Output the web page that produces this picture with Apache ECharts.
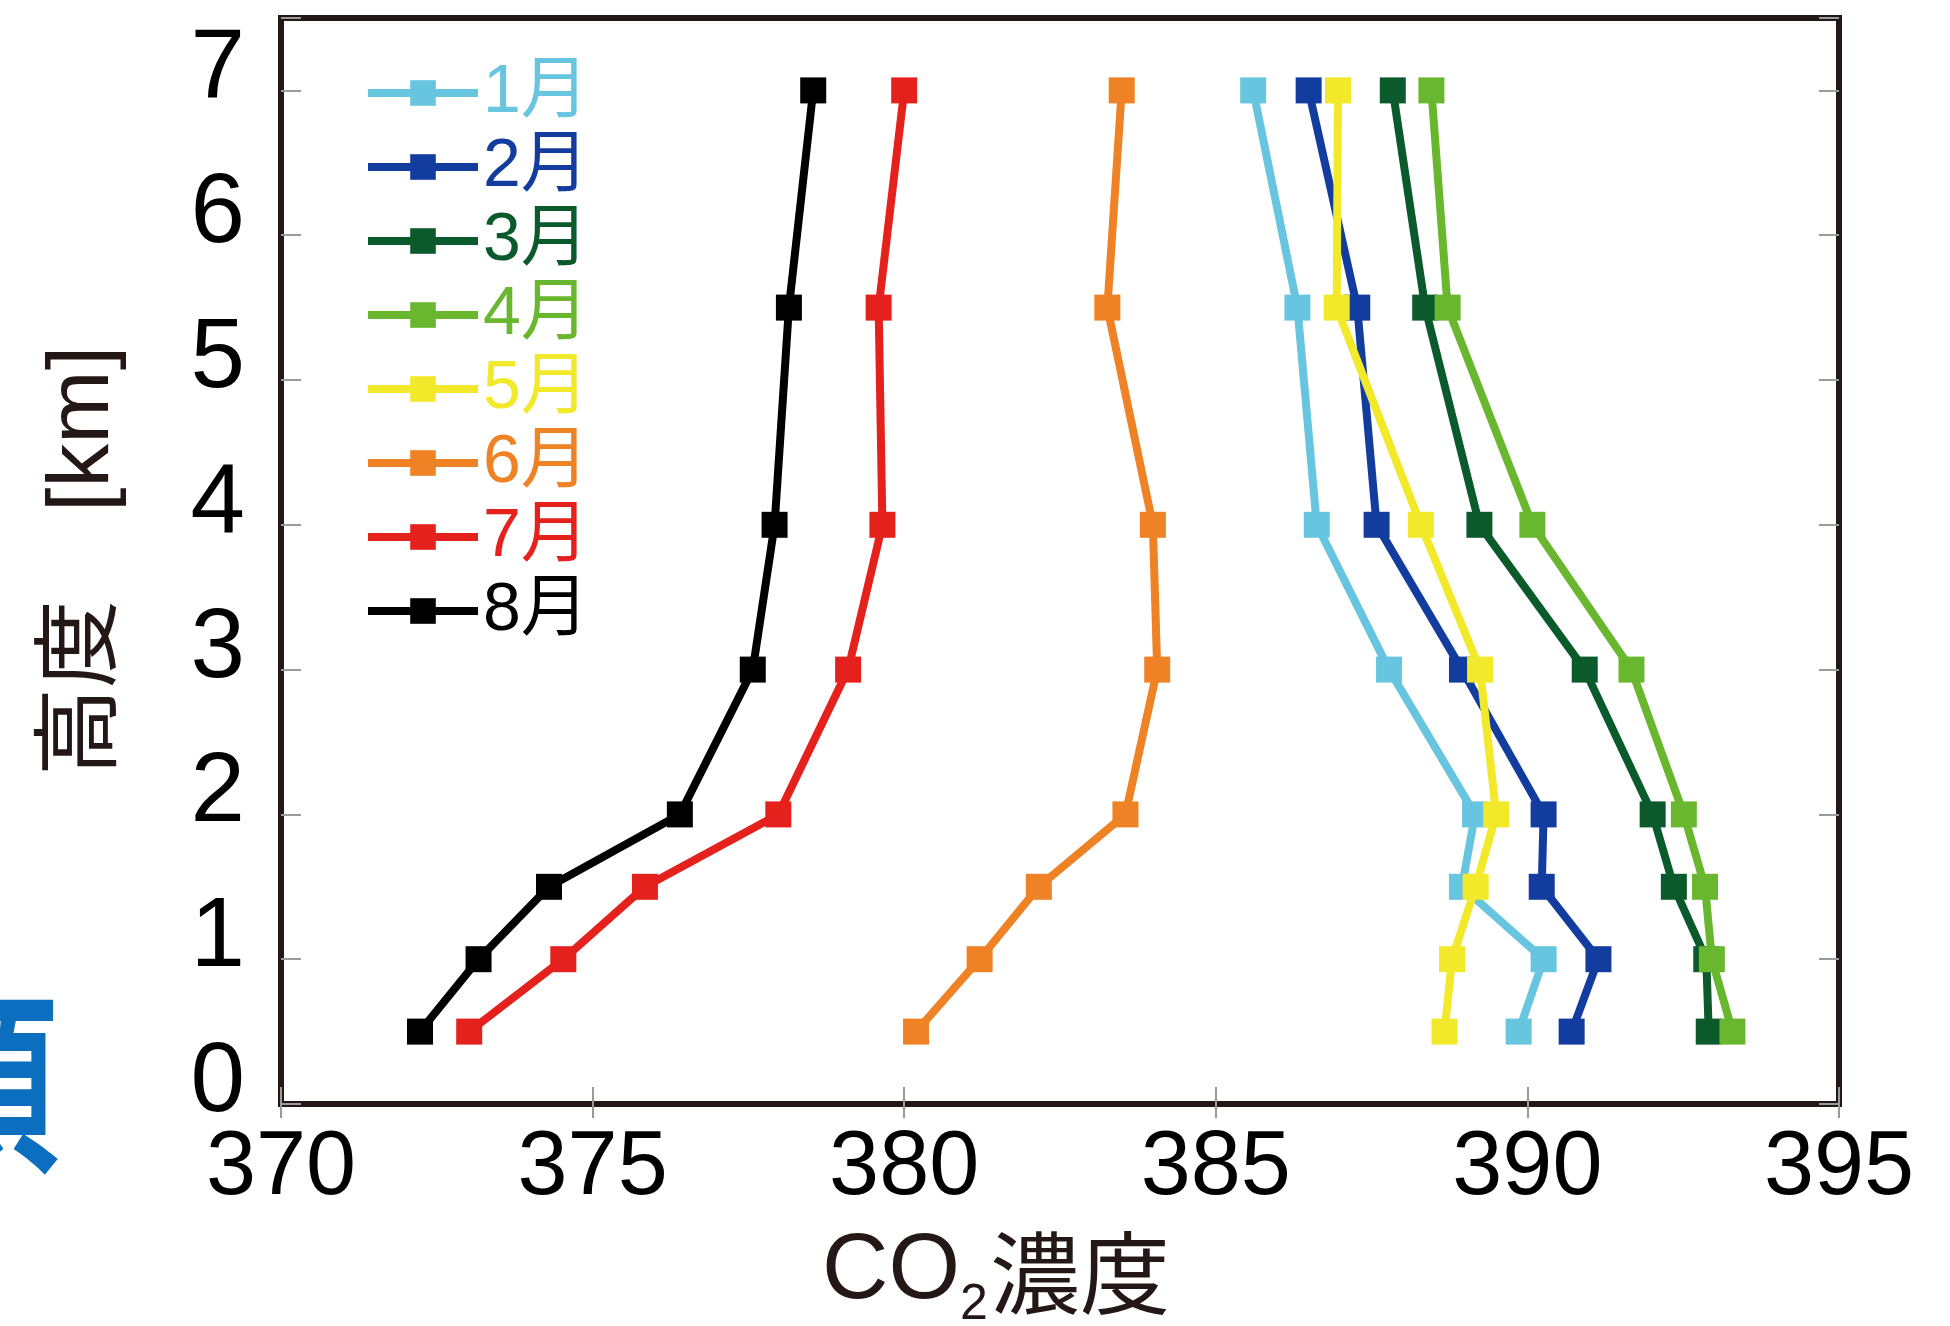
<!DOCTYPE html>
<html>
<head>
<meta charset="utf-8">
<script src="https://cdn.jsdelivr.net/npm/echarts@6/dist/echarts.min.js"></script>
<style>
html,body{margin:0;padding:0;background:#fff;}
#chart{width:1950px;height:1326px;}
</style>
</head>
<body>
<div id="chart"></div>
<script>
// Heights (km) of each observation level
const heights = [0.5, 1, 1.5, 2, 3, 4, 5.5, 7];
const months = ['1月', '2月', '3月', '4月', '5月', '6月', '7月', '8月'];
// CO2 concentration (ppm) at each height, per month
const co2Jan = [389.86, 390.26, 388.95, 389.16, 387.78, 386.62, 386.31, 385.60];
const co2Feb = [390.71, 391.14, 390.23, 390.26, 388.95, 387.58, 387.27, 386.49];
const co2Mar = [392.91, 392.87, 392.35, 392.01, 390.92, 389.23, 388.36, 387.84];
const co2Apr = [393.29, 392.96, 392.85, 392.51, 391.67, 390.08, 388.72, 388.46];
const co2May = [388.67, 388.79, 389.17, 389.50, 389.24, 388.29, 386.94, 386.96];
const co2Jun = [380.19, 381.21, 382.16, 383.55, 384.06, 383.99, 383.26, 383.49];
const co2Jul = [373.02, 374.53, 375.84, 377.98, 379.10, 379.65, 379.59, 380.00];
const co2Aug = [372.23, 373.17, 374.30, 376.40, 377.57, 377.92, 378.15, 378.54];
const xTicks = [370, 375, 380, 385, 390, 395];
const yTicks = [0, 1, 2, 3, 4, 5, 6, 7];

const allSeries = [co2Jan, co2Feb, co2Mar, co2Apr, co2May, co2Jun, co2Jul, co2Aug];
const colors = ['#67C5DF', '#123D9E', '#0A5A2B', '#69B72E', '#F2E92A', '#EE8224', '#E5211D', '#000000'];

const chart = echarts.init(document.getElementById('chart'));
const tickStyle = { color: '#9a9a9a', width: 2 };

const option = {
  animation: false,
  backgroundColor: '#ffffff',
  grid: {
    left: 281, right: 111, top: 18, bottom: 222,
    outerBoundsMode: 'none', containLabel: false,
    show: true, borderColor: '#231815', borderWidth: 6, backgroundColor: 'transparent'
  },
  legend: {
    orient: 'vertical',
    left: 359, top: 54,
    itemWidth: 110, itemHeight: 32, itemGap: 6,
    lineStyle: { width: 8 },
    textStyle: { fontSize: 68, lineHeight: 66, fontFamily: "'Liberation Sans', 'Noto Sans CJK JP'" },
    data: months.map((m, i) => ({ name: m, textStyle: { color: colors[i] } }))
  },
  xAxis: [{
    type: 'value', min: xTicks[0], max: xTicks[xTicks.length - 1], interval: 5,
    position: 'bottom',
    axisLine: { show: false },
    axisTick: { show: true, inside: true, length: 17, lineStyle: tickStyle },
    splitLine: { show: false },
    axisLabel: { fontSize: 90, color: '#000', margin: 20, fontFamily: "'Liberation Sans', sans-serif" },
    name: '{a|CO}{b|2}{c|濃度}',
    nameLocation: 'middle',
    nameGap: 112,
    nameTextStyle: {
      padding: [0, 128, 0, 0],
      rich: {
        a: { fontSize: 92, color: '#231815', fontFamily: "'Liberation Sans', 'Noto Sans CJK JP'" },
        b: { fontSize: 50, color: '#231815', fontFamily: "'Liberation Sans', 'Noto Sans CJK JP'", padding: [64, 2, 0, 0] },
        c: { fontSize: 90, color: '#231815', fontFamily: "'Noto Sans CJK JP'" }
      }
    }
  }, {
    type: 'value', min: xTicks[0], max: xTicks[xTicks.length - 1], interval: 5,
    position: 'top',
    axisLine: { show: false },
    axisTick: { show: true, inside: true, length: 14, lineStyle: tickStyle },
    splitLine: { show: false },
    axisLabel: { show: false }
  }],
  yAxis: [{
    type: 'value', min: 0, max: 7.5, interval: 1,
    position: 'left',
    axisLine: { show: false },
    axisTick: { show: true, inside: true, length: 20, lineStyle: tickStyle },
    splitLine: { show: false },
    axisLabel: {
      fontSize: 98, color: '#000', margin: 36,
      fontFamily: "'Liberation Sans', sans-serif",
      verticalAlign: 'bottom', lineHeight: 40,
      formatter: v => (yTicks.indexOf(v) >= 0 ? String(v) : '')
    },
    name: '高度　[km]',
    nameLocation: 'middle',
    nameGap: 153,
    nameTextStyle: { fontSize: 88, color: '#231815', fontFamily: "'Liberation Sans', 'Noto Sans CJK JP'" }
  }, {
    type: 'value', min: 0, max: 7.5, interval: 1,
    position: 'right',
    axisLine: { show: false },
    axisTick: { show: true, inside: true, length: 20, lineStyle: tickStyle },
    splitLine: { show: false },
    axisLabel: { show: false }
  }],
  graphic: [{
    type: 'text',
    x: 62, y: 985,
    scaleX: 0.55,
    style: {
      text: '頁', x: 0, y: 0,
      textAlign: 'right', textVerticalAlign: 'top',
      fontSize: 195, fontWeight: 'bold', fontFamily: "'Noto Sans CJK JP'",
      fill: '#0B6EBE'
    }
  }],
  series: allSeries.map((vals, i) => ({
    name: months[i],
    type: 'line',
    xAxisIndex: 0, yAxisIndex: 0,
    data: heights.map((h, k) => [vals[k], h]),
    symbol: 'rect',
    symbolSize: 26,
    lineStyle: { color: colors[i], width: 8 },
    itemStyle: { color: colors[i] },
    z: 2 + i
  }))
};
chart.setOption(option);
</script>
</body>
</html>
